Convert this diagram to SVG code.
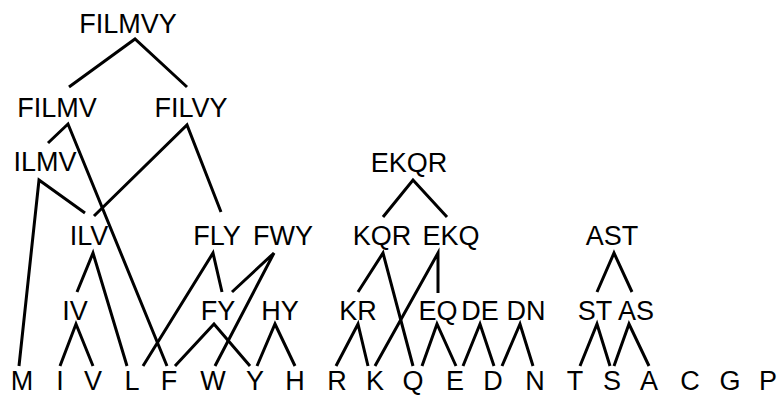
<svg xmlns="http://www.w3.org/2000/svg" width="779" height="396" viewBox="0 0 779 396">
<style>
text{font-family:"Liberation Sans",Arial,sans-serif;font-size:27px;fill:#000;text-anchor:middle}
.e{stroke:#000;stroke-width:3;fill:none;stroke-linecap:butt;stroke-linejoin:miter}
</style>
<rect width="779" height="396" fill="#fff"/>
<g id="connectors" class="e">
<polyline points="69,87 135,39 187,87"/>
<polyline points="48,143 68,124 167,366"/>
<polyline points="94,216 187,125 221,212"/>
<polyline points="19,366 39,180 85,213"/>
<polyline points="77,292 93,253 127,366"/>
<polyline points="60,366 76,324 93,366"/>
<polyline points="143,366 213,253 222,292"/>
<polyline points="232,292 274,253 215,366"/>
<polyline points="175,366 214,324 250,366"/>
<polyline points="257,366 275,324 295,366"/>
<polyline points="383,217 413,180 447,217"/>
<polyline points="358,292 383,253 413,366"/>
<polyline points="375,366 438,253 438,293"/>
<polyline points="336,366 358,324 368,366"/>
<polyline points="422,366 437,324 456,366"/>
<polyline points="463,366 480,324 494,366"/>
<polyline points="502,366 520,324 533,366"/>
<polyline points="597,292 614,253 632,292"/>
<polyline points="580,366 597,324 610,366"/>
<polyline points="614,366 629,324 649,366"/>
</g>
<g id="FILMVY"><text x="128" y="33">FILMVY</text></g>
<g id="FILMV"><text x="57" y="117">FILMV</text></g>
<g id="FILVY"><text x="191" y="117">FILVY</text></g>
<g id="ILMV"><text x="45" y="171">ILMV</text></g>
<g id="EKQR"><text x="409" y="172">EKQR</text></g>
<g id="ILV"><text x="89" y="245">ILV</text></g>
<g id="FLY"><text x="217" y="245">FLY</text></g>
<g id="FWY"><text x="283" y="245">FWY</text></g>
<g id="KQR"><text x="382" y="245">KQR</text></g>
<g id="EKQ"><text x="451" y="245">EKQ</text></g>
<g id="AST"><text x="612" y="245">AST</text></g>
<g id="IV"><text x="75" y="320">IV</text></g>
<g id="FY"><text x="218" y="320">FY</text></g>
<g id="HY"><text x="280" y="320">HY</text></g>
<g id="KR"><text x="358" y="320">KR</text></g>
<g id="EQ"><text x="438" y="320">EQ</text></g>
<g id="DE"><text x="480" y="320">DE</text></g>
<g id="DN"><text x="526" y="320">DN</text></g>
<g id="ST"><text x="595" y="320">ST</text></g>
<g id="AS"><text x="636" y="320">AS</text></g>
<g id="M"><text x="22" y="390">M</text></g>
<g id="I"><text x="60" y="390">I</text></g>
<g id="V"><text x="93" y="390">V</text></g>
<g id="L"><text x="132" y="390">L</text></g>
<g id="F"><text x="169" y="390">F</text></g>
<g id="W"><text x="213" y="390">W</text></g>
<g id="Y"><text x="255" y="390">Y</text></g>
<g id="H"><text x="295" y="390">H</text></g>
<g id="R"><text x="337" y="390">R</text></g>
<g id="K"><text x="375" y="390">K</text></g>
<g id="Q"><text x="413" y="390">Q</text></g>
<g id="E"><text x="455" y="390">E</text></g>
<g id="D"><text x="493" y="390">D</text></g>
<g id="N"><text x="535" y="390">N</text></g>
<g id="T"><text x="575" y="390">T</text></g>
<g id="S"><text x="612" y="390">S</text></g>
<g id="A"><text x="649" y="390">A</text></g>
<g id="C"><text x="690" y="390">C</text></g>
<g id="G"><text x="730" y="390">G</text></g>
<g id="P"><text x="768" y="390">P</text></g>
</svg>
